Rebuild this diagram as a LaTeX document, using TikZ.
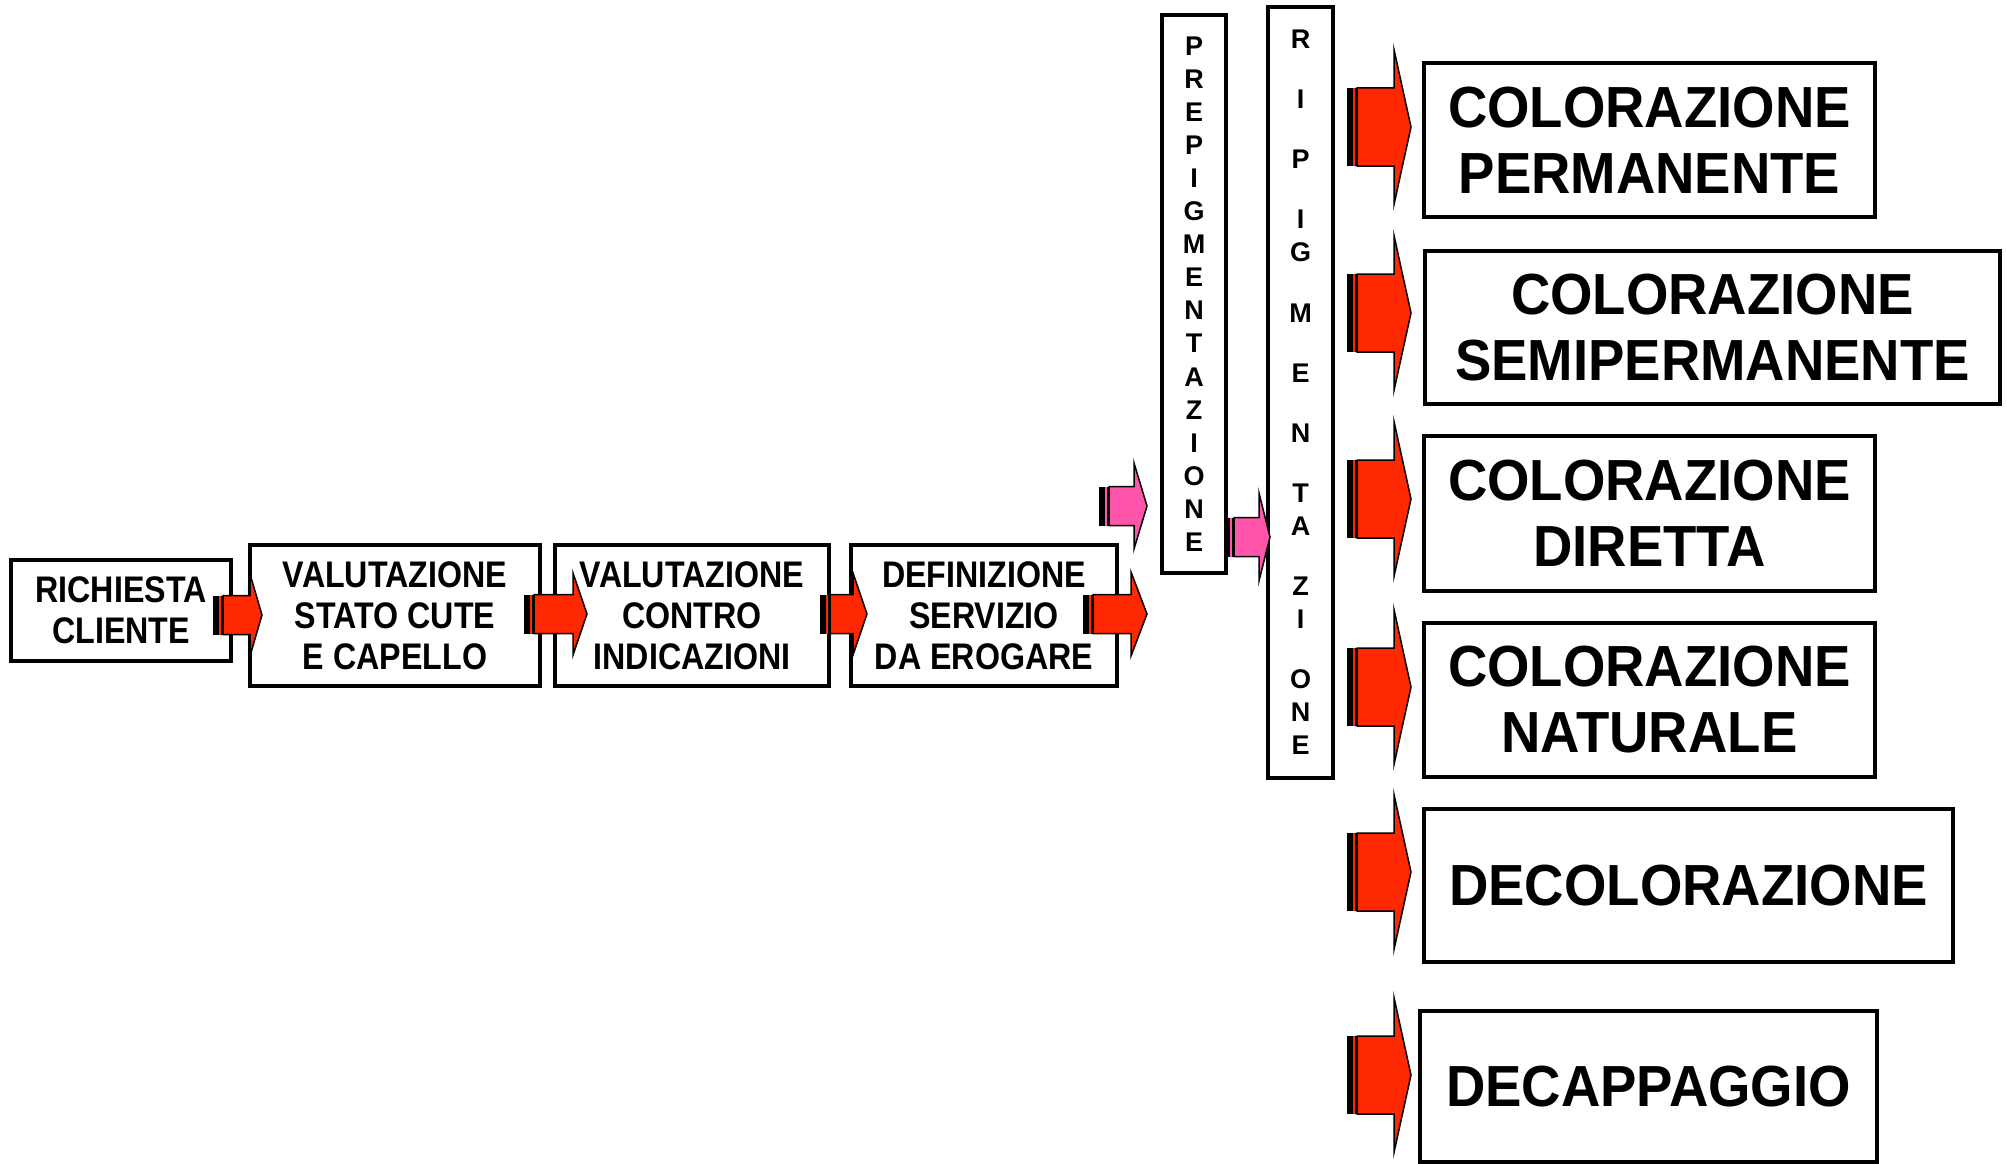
\documentclass[tikz,border=0pt]{standalone}
\usepackage{fontspec}
\setmainfont{Liberation Sans}
\newfontfamily\smallf{Liberation Sans}[FakeStretch=0.87]
\newfontfamily\bigf{Liberation Sans}[FakeStretch=0.94]
\newfontfamily\vertf{Liberation Sans}
\definecolor{arrred}{RGB}{255,40,0}
\definecolor{arrpink}{RGB}{255,85,170}
% block arrow: colour, x0 (shadow start), head base x, tip x, centre y, shaft half height, head half height
\newcommand{\blockarrow}[7]{%
  \fill[black] (#2,#5-#6) rectangle (#2+11,#5+#6);
  \fill[#1] (#2+5.5,#5-#6) rectangle (#2+7.5,#5+#6);
  \draw[fill=#1, line width=1.5pt, line join=miter]
    (#2+10,#5-#6) -- (#3,#5-#6) -- (#3,#5-#7) -- (#4,#5)
    -- (#3,#5+#7) -- (#3,#5+#6) -- (#2+10,#5+#6) -- cycle;
}
\tikzset{
  box/.style={draw, line width=4pt, fill=white, inner sep=0pt, outer sep=0pt,
    align=center, anchor=north west},
  smalltxt/.style={box, font={\smallf\bfseries\fontsize{37}{41}\selectfont}},
  bigtxt/.style={box, font={\bigf\bfseries\fontsize{58}{66}\selectfont}},
  verttxt/.style={box, font={\vertf\bfseries\fontsize{27}{33.1}\selectfont}},
}
\begin{document}
\begin{tikzpicture}[x=1pt, y=-1pt]
\useasboundingbox (0,0) rectangle (2006,1164);
\fill[white] (0,0) rectangle (2006,1164);

% left chain
\node[smalltxt, minimum width=220, minimum height=101] (rich) at (11,560) {RICHIESTA\\CLIENTE};
\node[smalltxt, minimum width=290, minimum height=141] (stato) at (250,545) {VALUTAZIONE\\STATO CUTE\\E CAPELLO};
\node[smalltxt, minimum width=274, minimum height=141] (contro) at (555,545) {VALUTAZIONE\\CONTRO\\INDICAZIONI};
\node[smalltxt, minimum width=266, minimum height=141] (defin) at (851,545) {DEFINIZIONE\\SERVIZIO\\DA EROGARE};

% vertical boxes
\node[verttxt, minimum width=64, minimum height=558] (prep) at (1162,15)
  {P\\R\\E\\P\\I\\G\\M\\E\\N\\T\\A\\Z\\I\\O\\N\\E};
\node[verttxt, minimum width=65, minimum height=771] (rip) at (1268,7)
  {R\\[27pt]I\\[27pt]P\\[27pt]I\\G\\[27pt]M\\[27pt]E\\[27pt]N\\[27pt]T\\A\\[27pt]Z\\I\\[27pt]O\\N\\E};

% right boxes
\node[bigtxt, minimum width=451, minimum height=154] (perm) at (1424,63) {COLORAZIONE\\PERMANENTE};
\node[bigtxt, minimum width=575, minimum height=153] (semi) at (1425,251) {COLORAZIONE\\SEMIPERMANENTE};
\node[bigtxt, minimum width=451, minimum height=155] (dir) at (1424,436) {COLORAZIONE\\DIRETTA};
\node[bigtxt, minimum width=451, minimum height=154] (nat) at (1424,623) {COLORAZIONE\\NATURALE};
\node[bigtxt, minimum width=529, minimum height=153] (decol) at (1424,809) {DECOLORAZIONE};
\node[bigtxt, minimum width=457, minimum height=151] (decap) at (1420,1011) {DECAPPAGGIO};

% arrows of the chain
\blockarrow{arrred}{213}{250}{262}{615}{19.5}{41}
\blockarrow{arrred}{524}{573}{587}{614}{19.5}{41}
\blockarrow{arrred}{820}{853}{867}{614}{19.5}{41}
\blockarrow{arrred}{1083}{1131}{1147}{614}{19.5}{42}
\blockarrow{arrpink}{1099}{1134}{1147}{506}{19.5}{43}
\blockarrow{arrpink}{1224}{1259}{1270}{537}{19.5}{44}

% arrows to the right boxes
\foreach \yc in {127,313,499,687,872,1075}{
  \blockarrow{arrred}{1347}{1394}{1411}{\yc}{39}{77.5}
}
\end{tikzpicture}
\end{document}
